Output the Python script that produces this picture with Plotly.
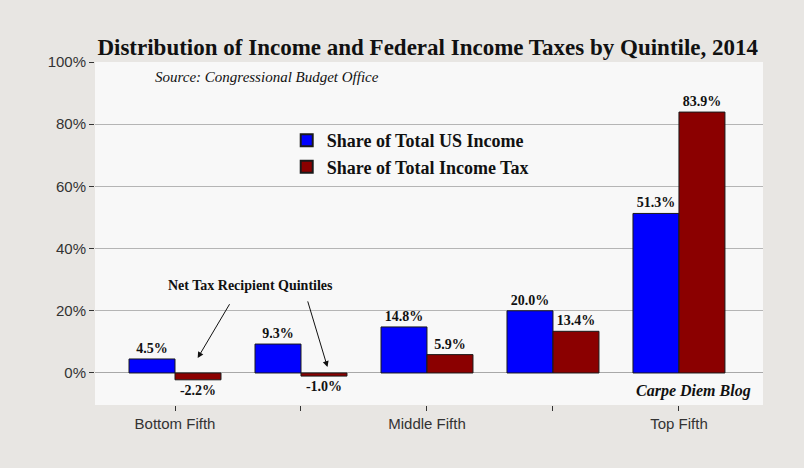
import plotly.graph_objects as go

# data
quintiles = ["Bottom Fifth", "Second Fifth", "Middle Fifth", "Fourth Fifth", "Top Fifth"]
tick_labels = ["Bottom Fifth", "", "Middle Fifth", "", "Top Fifth"]
income_share = [4.5, 9.3, 14.8, 20.0, 51.3]
tax_share = [-2.2, -1.0, 5.9, 13.4, 83.9]
y_ticks = [0, 20, 40, 60, 80, 100]

SERIF = "Liberation Serif"
positions = list(range(len(quintiles)))

fig = go.Figure()
fig.add_trace(go.Bar(
    x=positions,
    y=income_share,
    name="<b>Share of Total US Income</b>",
    marker={"color": "#0000ff", "line": {"color": "#1a1a1a", "width": 1}},
    text=[f"{v:.1f}%" for v in income_share],
    textposition="outside",
    textfont={"family": SERIF, "size": 14, "color": "#111", "weight": "bold"},
    cliponaxis=False,
    hovertext=quintiles,
))
fig.add_trace(go.Bar(
    x=positions,
    y=tax_share,
    name="<b>Share of Total Income Tax</b>",
    marker={"color": "#8b0000", "line": {"color": "#1a1a1a", "width": 1}},
    text=[f"{v:.1f}%" for v in tax_share],
    textposition="outside",
    textfont={"family": SERIF, "size": 14, "color": "#111", "weight": "bold"},
    cliponaxis=False,
    hovertext=quintiles,
))

annotations = [
    dict(text="<i>Source: Congressional Budget Office</i>", x=0.258, y=0.985,
         xref="paper", yref="paper", showarrow=False, xanchor="center", yanchor="top",
         font={"family": SERIF, "size": 15, "color": "#111"}),
    dict(text="<b><i>Carpe Diem Blog</i></b>", x=0.985, y=0.01,
         xref="paper", yref="paper", showarrow=False, xanchor="right", yanchor="bottom",
         font={"family": SERIF, "size": 16, "color": "#111"}),
    dict(text="<b>Net Tax Recipient Quintiles</b>", x=0.6, y=28,
         xref="x", yref="y", showarrow=False,
         font={"family": SERIF, "size": 14, "color": "#111"}),
    dict(x=0.18, y=4.8, ax=0.44, ay=22.6, xref="x", yref="y", axref="x", ayref="y",
         showarrow=True, arrowhead=2, arrowsize=1.2, arrowwidth=1, arrowcolor="#111", text=""),
    dict(x=1.21, y=1.9, ax=1.05, ay=23.5, xref="x", yref="y", axref="x", ayref="y",
         showarrow=True, arrowhead=2, arrowsize=1.2, arrowwidth=1, arrowcolor="#111", text=""),
]

fig.update_layout(
    width=804,
    height=468,
    margin={"l": 95, "r": 41, "t": 62, "b": 63},
    paper_bgcolor="#e8e6e3",
    plot_bgcolor="#f8f8f8",
    barmode="group",
    bargap=0.27,
    bargroupgap=0,
    title={
        "text": "<b>Distribution of Income and Federal Income Taxes by Quintile, 2014</b>",
        "x": 0.532, "xanchor": "center", "y": 0.9, "yanchor": "middle",
        "font": {"family": SERIF, "size": 23, "color": "#111"},
    },
    legend={
        "x": 0.287, "y": 0.825, "xanchor": "left", "yanchor": "top",
        "bgcolor": "rgba(0,0,0,0)",
        "font": {"family": SERIF, "size": 18, "color": "#111"},
        "tracegroupgap": 0, "itemsizing": "constant",
    },
    font={"family": "Liberation Sans", "size": 14, "color": "#333"},
    xaxis={
        "tickmode": "array", "tickvals": positions, "ticktext": tick_labels,
        "range": [-0.635, 4.667],
        "ticks": "outside", "ticklen": 5, "tickcolor": "#333",
        "showgrid": False, "zeroline": False,
        "tickfont": {"family": "Liberation Sans", "size": 15, "color": "#333"},
    },
    yaxis={
        "range": [-10.3, 100],
        "tickmode": "array", "tickvals": y_ticks,
        "ticktext": [f"{v}%" for v in y_ticks],
        "ticks": "outside", "ticklen": 5, "tickcolor": "#333",
        "showgrid": True, "gridcolor": "#b5b5b5", "gridwidth": 1,
        "zeroline": True, "zerolinecolor": "#a8a8a8", "zerolinewidth": 1,
        "tickfont": {"family": "Liberation Sans", "size": 15, "color": "#333"},
    },
    annotations=annotations,
    showlegend=True,
)

fig.write_html(
    "out.html",
    config={"displayModeBar": False},
    post_script="document.body.style.margin='0';",
)
